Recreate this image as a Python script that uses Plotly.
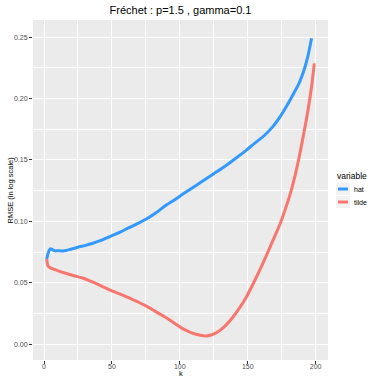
import plotly.graph_objects as go

# ---- data ----
k_hat = [2, 3, 4, 5, 6, 8, 10, 14, 18, 22, 26, 30, 36, 42, 50, 56, 63, 70, 75, 82,
         90, 96, 102, 108, 116, 125, 133, 141, 149, 155, 162, 168, 174, 179, 184,
         188, 191, 194, 197]
rmse_hat = [0.0694, 0.0740, 0.0768, 0.0778, 0.0772, 0.0760, 0.0762, 0.0759, 0.0768,
            0.0780, 0.0794, 0.0803, 0.0822, 0.0845, 0.0884, 0.0912, 0.0952, 0.0988,
            0.1017, 0.1066, 0.1133, 0.1175, 0.1220, 0.1264, 0.1322, 0.1388, 0.1447,
            0.1512, 0.1580, 0.1635, 0.1697, 0.1765, 0.1855, 0.1945, 0.2045, 0.2130,
            0.2215, 0.2330, 0.2490]

k_tilde = [2, 3, 5, 7, 10, 16, 22, 29, 36, 43, 50, 58, 65, 70, 75, 82, 90, 96, 102, 107,
           112, 116, 119, 123, 127, 131, 135, 139, 144, 149, 155, 161, 167, 174, 178,
           182, 185, 188, 191, 194, 197, 199]
rmse_tilde = [0.0694, 0.0637, 0.0620, 0.0612, 0.0600, 0.0578, 0.0558, 0.0537, 0.0505,
              0.0470, 0.0434, 0.0400, 0.0365, 0.0340, 0.0312, 0.0268, 0.0215, 0.0172,
              0.0127, 0.0101, 0.0082, 0.0071, 0.0068, 0.0075, 0.0095, 0.0125, 0.0168,
              0.0220, 0.0296, 0.0385, 0.0515, 0.0655, 0.0805, 0.0985, 0.1110, 0.1250,
              0.1380, 0.1530, 0.1700, 0.1880, 0.2096, 0.2286]

x_ticks = [0, 50, 100, 150, 200]
y_ticks = [0.00, 0.05, 0.10, 0.15, 0.20, 0.25]
y_tick_labels = ["0.00", "0.05", "0.10", "0.15", "0.20", "0.25"]

series_names = ["hat", "tilde"]
series_colors = ["#3399FF", "#F8766D"]

W, H = 368, 377
L, R, T, B = 33, 40, 20, 17
PW, PH = W - L - R, H - T - B
FONT = "Liberation Sans, Arial, sans-serif"


def px_x(px):
    return (px - L) / PW


def px_y(py):
    return 1 - (py - T) / PH


fig = go.Figure()
fig.add_trace(go.Scatter(x=k_hat, y=rmse_hat, mode="lines", name=series_names[0],
                         line=dict(color=series_colors[0], width=3, shape="spline", smoothing=0.8),
                         showlegend=False))
fig.add_trace(go.Scatter(x=k_tilde, y=rmse_tilde, mode="lines", name=series_names[1],
                         line=dict(color=series_colors[1], width=3, shape="spline", smoothing=0.8),
                         showlegend=False))

axis_common = dict(
    showgrid=True, gridcolor="white", gridwidth=1.1,
    zeroline=False, showline=False,
    ticks="outside", ticklen=3, tickwidth=1, tickcolor="#333333",
    tickfont=dict(family=FONT, size=7, color="#4D4D4D"),
    minor=dict(showgrid=True, gridcolor="white", gridwidth=0.6, ticks=""),
)

fig.update_xaxes(range=[-8.1, 209.1], tickvals=x_ticks, ticktext=[str(v) for v in x_ticks],
                 minor_dtick=25, minor_tick0=0, ticklabelstandoff=-3, **axis_common)
fig.update_yaxes(range=[-0.0128, 0.2639], tickvals=y_ticks, ticktext=y_tick_labels,
                 minor_dtick=0.025, minor_tick0=0, **axis_common)

# axis titles
fig.add_annotation(xref="paper", yref="paper", x=px_x(180.5), y=px_y(373.8),
                   text="k", showarrow=False, xanchor="center", yanchor="middle",
                   borderpad=0, font=dict(family=FONT, size=7.5, color="black"))
fig.add_annotation(xref="paper", yref="paper", x=px_x(9.5), y=px_y(190),
                   text="RMSE (in log scale)", showarrow=False, textangle=-90,
                   xanchor="center", yanchor="middle", borderpad=0,
                   font=dict(family=FONT, size=7.5, color="black"))

# legend drawn manually to match ggplot style
fig.add_annotation(xref="paper", yref="paper", x=px_x(335), y=px_y(176),
                   text="variable", showarrow=False, xanchor="left", yanchor="middle",
                   font=dict(family=FONT, size=8.5, color="black"))
item_y = [189, 202]
for name, col, py in zip(series_names, series_colors, item_y):
    yp = px_y(py)
    fig.add_shape(type="rect", xref="paper", yref="paper",
                  x0=px_x(336), x1=px_x(350), y0=yp - 6 / PH, y1=yp + 6 / PH,
                  fillcolor="#F2F2F2", line=dict(width=0))
    fig.add_shape(type="line", xref="paper", yref="paper",
                  x0=px_x(338), x1=px_x(348), y0=yp, y1=yp, line=dict(color=col, width=3))
    fig.add_annotation(xref="paper", yref="paper", x=px_x(352), y=yp,
                       text=name, showarrow=False, xanchor="left", yanchor="middle",
                       font=dict(family=FONT, size=7, color="black"))

fig.update_layout(
    width=W, height=H,
    margin=dict(l=L, r=R, t=T, b=B, autoexpand=False),
    paper_bgcolor="white", plot_bgcolor="#EBEBEB",
    title=dict(text="Fréchet : p=1.5 , gamma=0.1", x=(L + PW / 2) / W, xanchor="center",
               y=1 - 10 / H, yanchor="middle", font=dict(family=FONT, size=11, color="black")),
    showlegend=False,
)

fig.write_html("out.html")
